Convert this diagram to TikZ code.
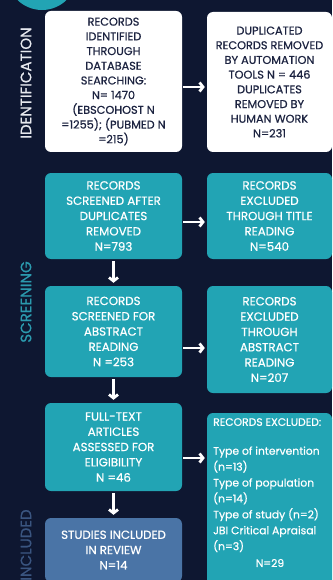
\documentclass[tikz,border=0pt]{standalone}
\usepackage{fontspec}
\setmainfont{Poppins}
\newfontfamily\boxfont{Poppins}[FakeBold=0.6]
\usetikzlibrary{arrows.meta,calc}
\definecolor{bgnavy}{HTML}{0E1731}
\definecolor{tealbox}{HTML}{22A4B4}
\definecolor{tealtext}{HTML}{2B9AAE}
\definecolor{incbox}{HTML}{4A74A6}
\definecolor{inctext}{HTML}{3A5580}
\definecolor{navytext}{HTML}{1C2340}
\definecolor{idtext}{HTML}{E6E8EE}
\tikzset{
  boxbase/.style={rounded corners=6pt, inner sep=0pt, align=center, font=\boxfont\fontsize{11.8}{15.3}\selectfont},
  wbox/.style={boxbase, fill=white, text=navytext, font=\boxfont\fontsize{11.3}{14.7}\selectfont},
  tbox/.style={boxbase, fill=tealbox, text=white},
  ibox/.style={boxbase, fill=incbox, text=white},
  listtext/.style={inner sep=0pt, text=white, font=\boxfont\fontsize{10.8}{15.9}\selectfont},
  sidelabel/.style={rotate=90, font=\boxfont\fontsize{15}{15}\selectfont, inner sep=0pt},
  arr/.style={draw=white, line width=2.8pt, -{Straight Barb[length=3.5pt,width=9pt]}}
}
\begin{document}
\begin{tikzpicture}[x=1pt,y=-1pt]
\useasboundingbox (0,0) rectangle (332,580);
\clip (0,0) rectangle (332,580);
\fill[bgnavy] (0,0) rectangle (332,580);
\fill[tealbox] (42,-25) circle[radius=35];

% side labels
\node[sidelabel, text=idtext] (lid) at (26,83) {IDENTIFICATION};
\node[sidelabel, text=tealtext] (lsc) at (26,302) {SCREENING};
\node[sidelabel, text=inctext] (lin) at (26,545) {INCLUDED};

% boxes
\node[wbox, minimum width=137pt, minimum height=141pt] (b1) at (113.5,81.5)
  {RECORDS\\IDENTIFIED\\THROUGH\\DATABASE\\SEARCHING:\\N= 1470\\(EBSCOHOST N\\=1255); (PUBMED N\\=215)};
\node[wbox, minimum width=125pt, minimum height=140pt] (b2) at (269.5,82)
  {DUPLICATED\\RECORDS REMOVED\\BY AUTOMATION\\TOOLS N = 446\\DUPLICATES\\REMOVED BY\\HUMAN WORK\\N=231};
\node[tbox, minimum width=137pt, minimum height=86pt] (b3) at (113.5,216)
  {RECORDS\\SCREENED AFTER\\DUPLICATES\\REMOVED\\N=793};
\node[tbox, minimum width=125pt, minimum height=86pt] (b4) at (269.5,216)
  {RECORDS\\EXCLUDED\\THROUGH TITLE\\READING\\N=540};
\node[tbox, minimum width=137pt, minimum height=91pt] (b5) at (113.5,331.5)
  {RECORDS\\SCREENED FOR\\ABSTRACT\\READING\\N =253};
\node[tbox, minimum width=125pt, minimum height=107pt] (b6) at (269.5,339.5)
  {RECORDS\\EXCLUDED\\THROUGH\\ABSTRACT\\READING\\N=207};
\node[tbox, minimum width=137pt, minimum height=88pt] (b7) at (113.5,447)
  {FULL-TEXT\\ARTICLES\\ASSESSED FOR\\ELIGIBILITY\\N =46};
\node[tbox, minimum width=125pt, minimum height=180pt] (b8) at (269.5,503) {};
\node[listtext, anchor=north west, align=left] (b8t) at (213,418)
  {RECORDS EXCLUDED:\\[13pt]Type of intervention\\(n=13)\\Type of population\\(n=14)\\Type of study (n=2)\\JBI Critical Apraisal\\(n=3)};
\node[listtext] (b8n) at (270,563) {N=29};
\node[ibox, minimum width=137pt, minimum height=64pt] (b9) at (113.5,550)
  {STUDIES INCLUDED\\IN REVIEW\\N=14};

% arrows
\draw[arr] ($(b1.east)+(1pt,-5.5pt)$) -- ($(b1.east -| b2.west)+(-2pt,-5.5pt)$);
\draw[arr] ($(b3.east)+(1pt,-6pt)$) -- ($(b3.east -| b4.west)+(-2pt,-6pt)$);
\draw[arr] ($(b5.east)+(1pt,-16.5pt)$) -- ($(b5.east -| b6.west)+(-2pt,-16.5pt)$);
\draw[arr] ($(b7.east)+(1pt,-11pt)$) -- ($(b7.east -| b8.west)+(-2pt,-11pt)$);
\draw[arr] ($(b3.south)+(0,-2pt)$) -- ($(b5.north)+(0,3pt)$);
\draw[arr] ($(b5.south)+(0,-2pt)$) -- ($(b7.north)+(0,3pt)$);
\draw[arr] ($(b7.south)+(0,-2pt)$) -- ($(b9.north)+(0,3pt)$);
\end{tikzpicture}
\end{document}
